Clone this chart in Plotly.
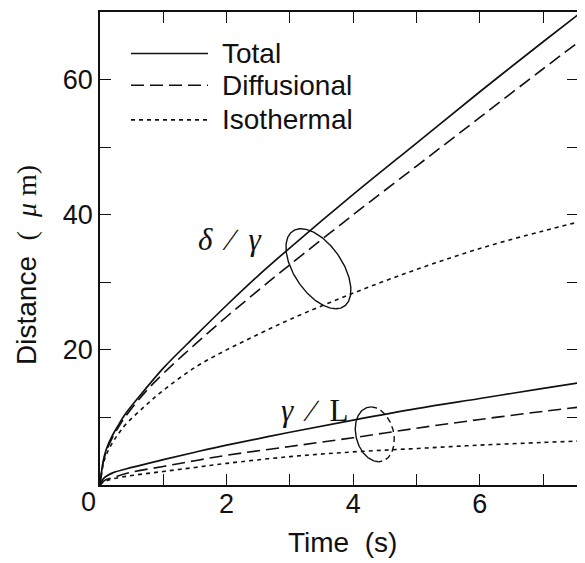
import numpy as np
import plotly.graph_objects as go

# ---------------- data ----------------
# upper group  (delta / gamma)
t_up = [0, 0.05, 0.1, 0.2, 0.3, 0.4, 0.7, 1.0, 1.5, 2.0, 2.5, 3.0, 4.0, 5.0, 6.0, 7.0, 7.55]
up_total = [0, 3.5, 5.3, 7.4, 9.0, 10.5, 14.0, 17.3, 22.0, 26.6, 31.0, 35.1, 43.0, 50.6, 58.2, 65.6, 69.6]
up_diff = [0, 3.3, 5.0, 7.1, 8.7, 10.1, 13.6, 16.5, 20.8, 24.9, 28.8, 32.6, 40.0, 47.2, 54.4, 61.6, 65.5]
up_iso = [0, 3.0, 4.5, 6.3, 7.7, 8.9, 11.6, 14.0, 17.4, 20.0, 22.3, 24.5, 28.4, 31.9, 35.0, 37.6, 38.9]

# lower group  (gamma / L)
t_lo = [0, 0.05, 0.1, 0.2, 0.5, 1.0, 1.5, 2.0, 3.0, 4.0, 5.0, 6.0, 7.0, 7.55]
lo_total = [0, 0.9, 1.3, 1.8, 2.6, 3.75, 4.85, 5.9, 7.8, 9.6, 11.3, 12.8, 14.3, 15.1]
lo_diff = [0, 0.5, 0.8, 1.1, 1.9, 2.75, 3.6, 4.4, 5.7, 7.0, 8.4, 9.7, 10.9, 11.5]
lo_iso = [0, 0.4, 0.6, 0.9, 1.4, 2.0, 2.6, 3.2, 4.2, 4.9, 5.4, 5.9, 6.3, 6.5]

x_ticks = [0, 1, 2, 3, 4, 5, 6, 7]
x_ticktext = ["", "", "2", "", "4", "", "6", ""]
y_ticks = [0, 10, 20, 30, 40, 50, 60]
y_ticktext = ["", "", "20", "", "40", "", "60"]

legend_names = ["Total", "Diffusional", "Isothermal"]

# ---------------- layout constants ----------------
OFF = 8                      # page body margin of the browser
W, H = 585 - OFF, 563 - OFF
ML, MR, MT, MB = 100 - OFF, 7, 10 - OFF, 78
XR = [0, 7.55]
YR = [0, 70]
SX = (W - ML - MR) / (XR[1] - XR[0])   # px per x unit
SY = (H - MT - MB) / (YR[1] - YR[0])   # px per y unit

SANS = "Liberation Sans, Arial, sans-serif"
SERIF = "Liberation Serif, Times New Roman, serif"
BLACK = "#111111"
NB = "\u00a0"

styles = {
    "Total": dict(color=BLACK, width=1.7, dash="solid"),
    "Diffusional": dict(color=BLACK, width=1.6, dash="13px,6px"),
    "Isothermal": dict(color=BLACK, width=1.6, dash="4px,4px"),
}

fig = go.Figure()
for t, ys in ((t_up, (up_total, up_diff, up_iso)), (t_lo, (lo_total, lo_diff, lo_iso))):
    for name, y in zip(legend_names, ys):
        fig.add_trace(go.Scatter(x=t, y=y, mode="lines", line=styles[name],
                                 line_shape="spline", showlegend=False,
                                 hoverinfo="skip"))


def ellipse_arcs(cx, cy, a, b, theta_deg, n=241):
    th = np.radians(theta_deg)
    s = np.linspace(0, 2 * np.pi, n)[:-1]
    dx = a * np.cos(th) * np.cos(s) - b * np.sin(th) * np.sin(s)
    dy = a * np.sin(th) * np.cos(s) + b * np.cos(th) * np.sin(s)  # pixel, y down
    m = len(s)
    i_top, i_bot = int(np.argmin(dy)), int(np.argmax(dy))
    arc1 = [(i_top + k) % m for k in range(((i_bot - i_top) % m) + 1)]
    arc2 = [(i_bot + k) % m for k in range(((i_top - i_bot) % m) + 1)]

    def conv(idx):
        return cx + dx[idx] / SX, cy - dy[idx] / SY
    a1, a2 = conv(np.array(arc1)), conv(np.array(arc2))
    if a1[0].mean() < a2[0].mean():
        return a1, a2  # left, right
    return a2, a1


# upper ellipse (solid all round)
left, right = ellipse_arcs(3.45, 32.0, 45.7, 24.1, 55.9)
for arc in (left, right):
    fig.add_trace(go.Scatter(x=arc[0], y=arc[1], mode="lines",
                             line=dict(color=BLACK, width=1.4), showlegend=False,
                             hoverinfo="skip"))
# lower ellipse (left solid, right dashed)
left, right = ellipse_arcs(4.34, 7.5, 28.0, 18.8, 75.4)
fig.add_trace(go.Scatter(x=left[0], y=left[1], mode="lines",
                         line=dict(color=BLACK, width=1.4), showlegend=False, hoverinfo="skip"))
fig.add_trace(go.Scatter(x=right[0], y=right[1], mode="lines",
                         line=dict(color=BLACK, width=1.4, dash="6px,4px"), showlegend=False,
                         hoverinfo="skip"))


def px2paper(px, py):
    """reference-picture pixel -> paper coordinates"""
    px, py = px - OFF, py - OFF
    return (px - ML) / (W - ML - MR), (H - MB - py) / (H - MT - MB)


# manual legend
shapes = []
annotations = []
for name, py in zip(legend_names, (51.7, 83.5, 118.3)):
    x0, y0 = px2paper(131, py)
    x1, _ = px2paper(208, py)
    shapes.append(dict(type="line", xref="paper", yref="paper", x0=x0, x1=x1, y0=y0, y1=y0,
                       line=styles[name]))
    tx, _ = px2paper(220, py)
    annotations.append(dict(text=name, xref="paper", yref="paper", x=tx, y=y0,
                            xanchor="left", yanchor="middle", showarrow=False,
                            font=dict(family=SANS, size=28, color=BLACK)))

# curve group labels
annotations.append(dict(text=f"<i>δ</i>{NB}{NB}∕{NB}{NB}<i>γ</i>", x=2.06, y=36.4, xref="x", yref="y",
                        showarrow=False, font=dict(family=SERIF, size=31, color=BLACK)))
annotations.append(dict(text=f"<i>γ</i>{NB}{NB}∕{NB}{NB}L", x=3.39, y=11.1, xref="x", yref="y",
                        showarrow=False, font=dict(family=SERIF, size=31, color=BLACK)))

# origin "0"
ox, oy = px2paper(88, 502)
annotations.append(dict(text="0", xref="paper", yref="paper", x=ox, y=oy, showarrow=False,
                        xanchor="center", yanchor="middle",
                        font=dict(family=SANS, size=27, color=BLACK)))
# axis titles
tx, ty = px2paper(342, 543)
annotations.append(dict(text=f"Time{NB}{NB}(s)", xref="paper", yref="paper", x=tx, y=ty,
                        showarrow=False, xanchor="center", yanchor="middle",
                        font=dict(family=SANS, size=28, color=BLACK)))
tx, ty = px2paper(27, 264)
annotations.append(dict(
    text=f"Distance{NB}{NB}<span style='font-family:Liberation Serif'>({NB}{NB}<i>μ</i>{NB}m)</span>",
    xref="paper", yref="paper", x=tx, y=ty, textangle=-90,
    showarrow=False, xanchor="center", yanchor="middle",
    font=dict(family=SANS, size=28, color=BLACK)))

axis_common = dict(showline=True, linecolor=BLACK, linewidth=1.6, mirror="ticks",
                   ticks="inside", ticklen=11, tickwidth=1.4, tickcolor=BLACK,
                   showgrid=False, zeroline=False,
                   tickfont=dict(family=SANS, size=27, color=BLACK))

fig.update_layout(
    width=W, height=H,
    margin=dict(l=ML, r=MR, t=MT, b=MB),
    paper_bgcolor="white", plot_bgcolor="white",
    showlegend=False,
    xaxis=dict(range=XR, tickvals=x_ticks, ticktext=x_ticktext, ticklabelstandoff=-6,
               **axis_common),
    yaxis=dict(range=YR, tickvals=y_ticks, ticktext=y_ticktext, **axis_common),
    shapes=shapes, annotations=annotations,
)

fig.write_html("out.html")
